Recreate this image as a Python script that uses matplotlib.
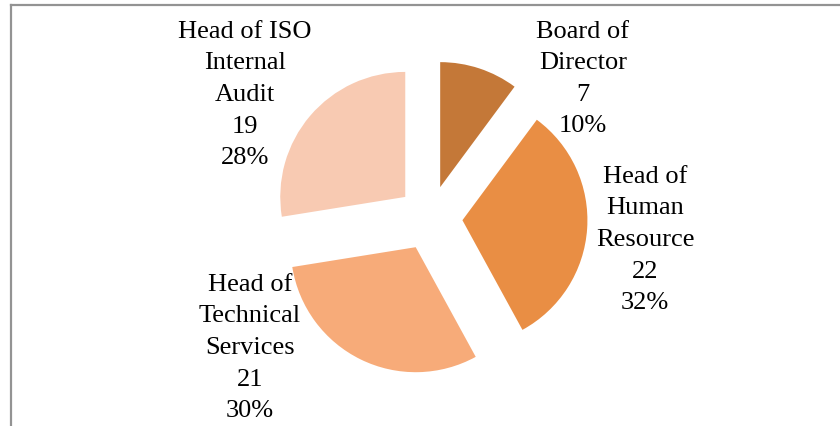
import matplotlib
matplotlib.use('Agg')
import matplotlib.pyplot as plt
from matplotlib.lines import Line2D

# dados do gráfico
categorias = ['Board of\nDirector', 'Head of\nHuman\nResource',
              'Head of\nTechnical\nServices', 'Head of ISO\nInternal\nAudit']
valores = [7, 22, 21, 19]
cores = ['#C47838', '#E98E44', '#F7AB79', '#F8CAB2']

plt.rcParams['font.family'] = ['Liberation Serif', 'DejaVu Serif']

fig = plt.figure(figsize=(8.4, 4.27), dpi=100)
ax = fig.add_axes([0, 0, 1, 1])

# pie em coordenadas de pixel (y para cima)
centro = (430, 208)
raio = 125
total = sum(valores)

# explode em unidades de dados (pixels aqui)
wedges, _ = ax.pie(valores, colors=cores, startangle=90, counterclock=False,
                   explode=[0.26 * raio] * len(valores), radius=raio, center=centro,
                   wedgeprops=dict(linewidth=0))

ax.set_xlim(0, 840)
ax.set_ylim(0, 427)
ax.set_aspect('equal')
ax.axis('off')

# posições dos rótulos (centro do bloco de texto)
pos_rotulos = [(583, 427 - 79), (645, 427 - 240), (250, 427 - 348), (245, 427 - 95)]
for cat, val, (x, y) in zip(categorias, valores, pos_rotulos):
    pct = round(100 * val / total)
    ax.text(x, y, f'{cat}\n{val}\n{pct}%', ha='center', va='center',
            fontsize=19, linespacing=1.56, color='black')

# moldura (só topo e esquerda visíveis)
fig.add_artist(Line2D([11 / 840, 1], [1 - 6 / 427, 1 - 6 / 427],
                      transform=fig.transFigure, color='#939393', lw=1.6))
fig.add_artist(Line2D([11 / 840, 11 / 840], [0, 1 - 6 / 427],
                      transform=fig.transFigure, color='#939393', lw=1.6))

fig.savefig('out.png', dpi=100)
plt.close(fig)
